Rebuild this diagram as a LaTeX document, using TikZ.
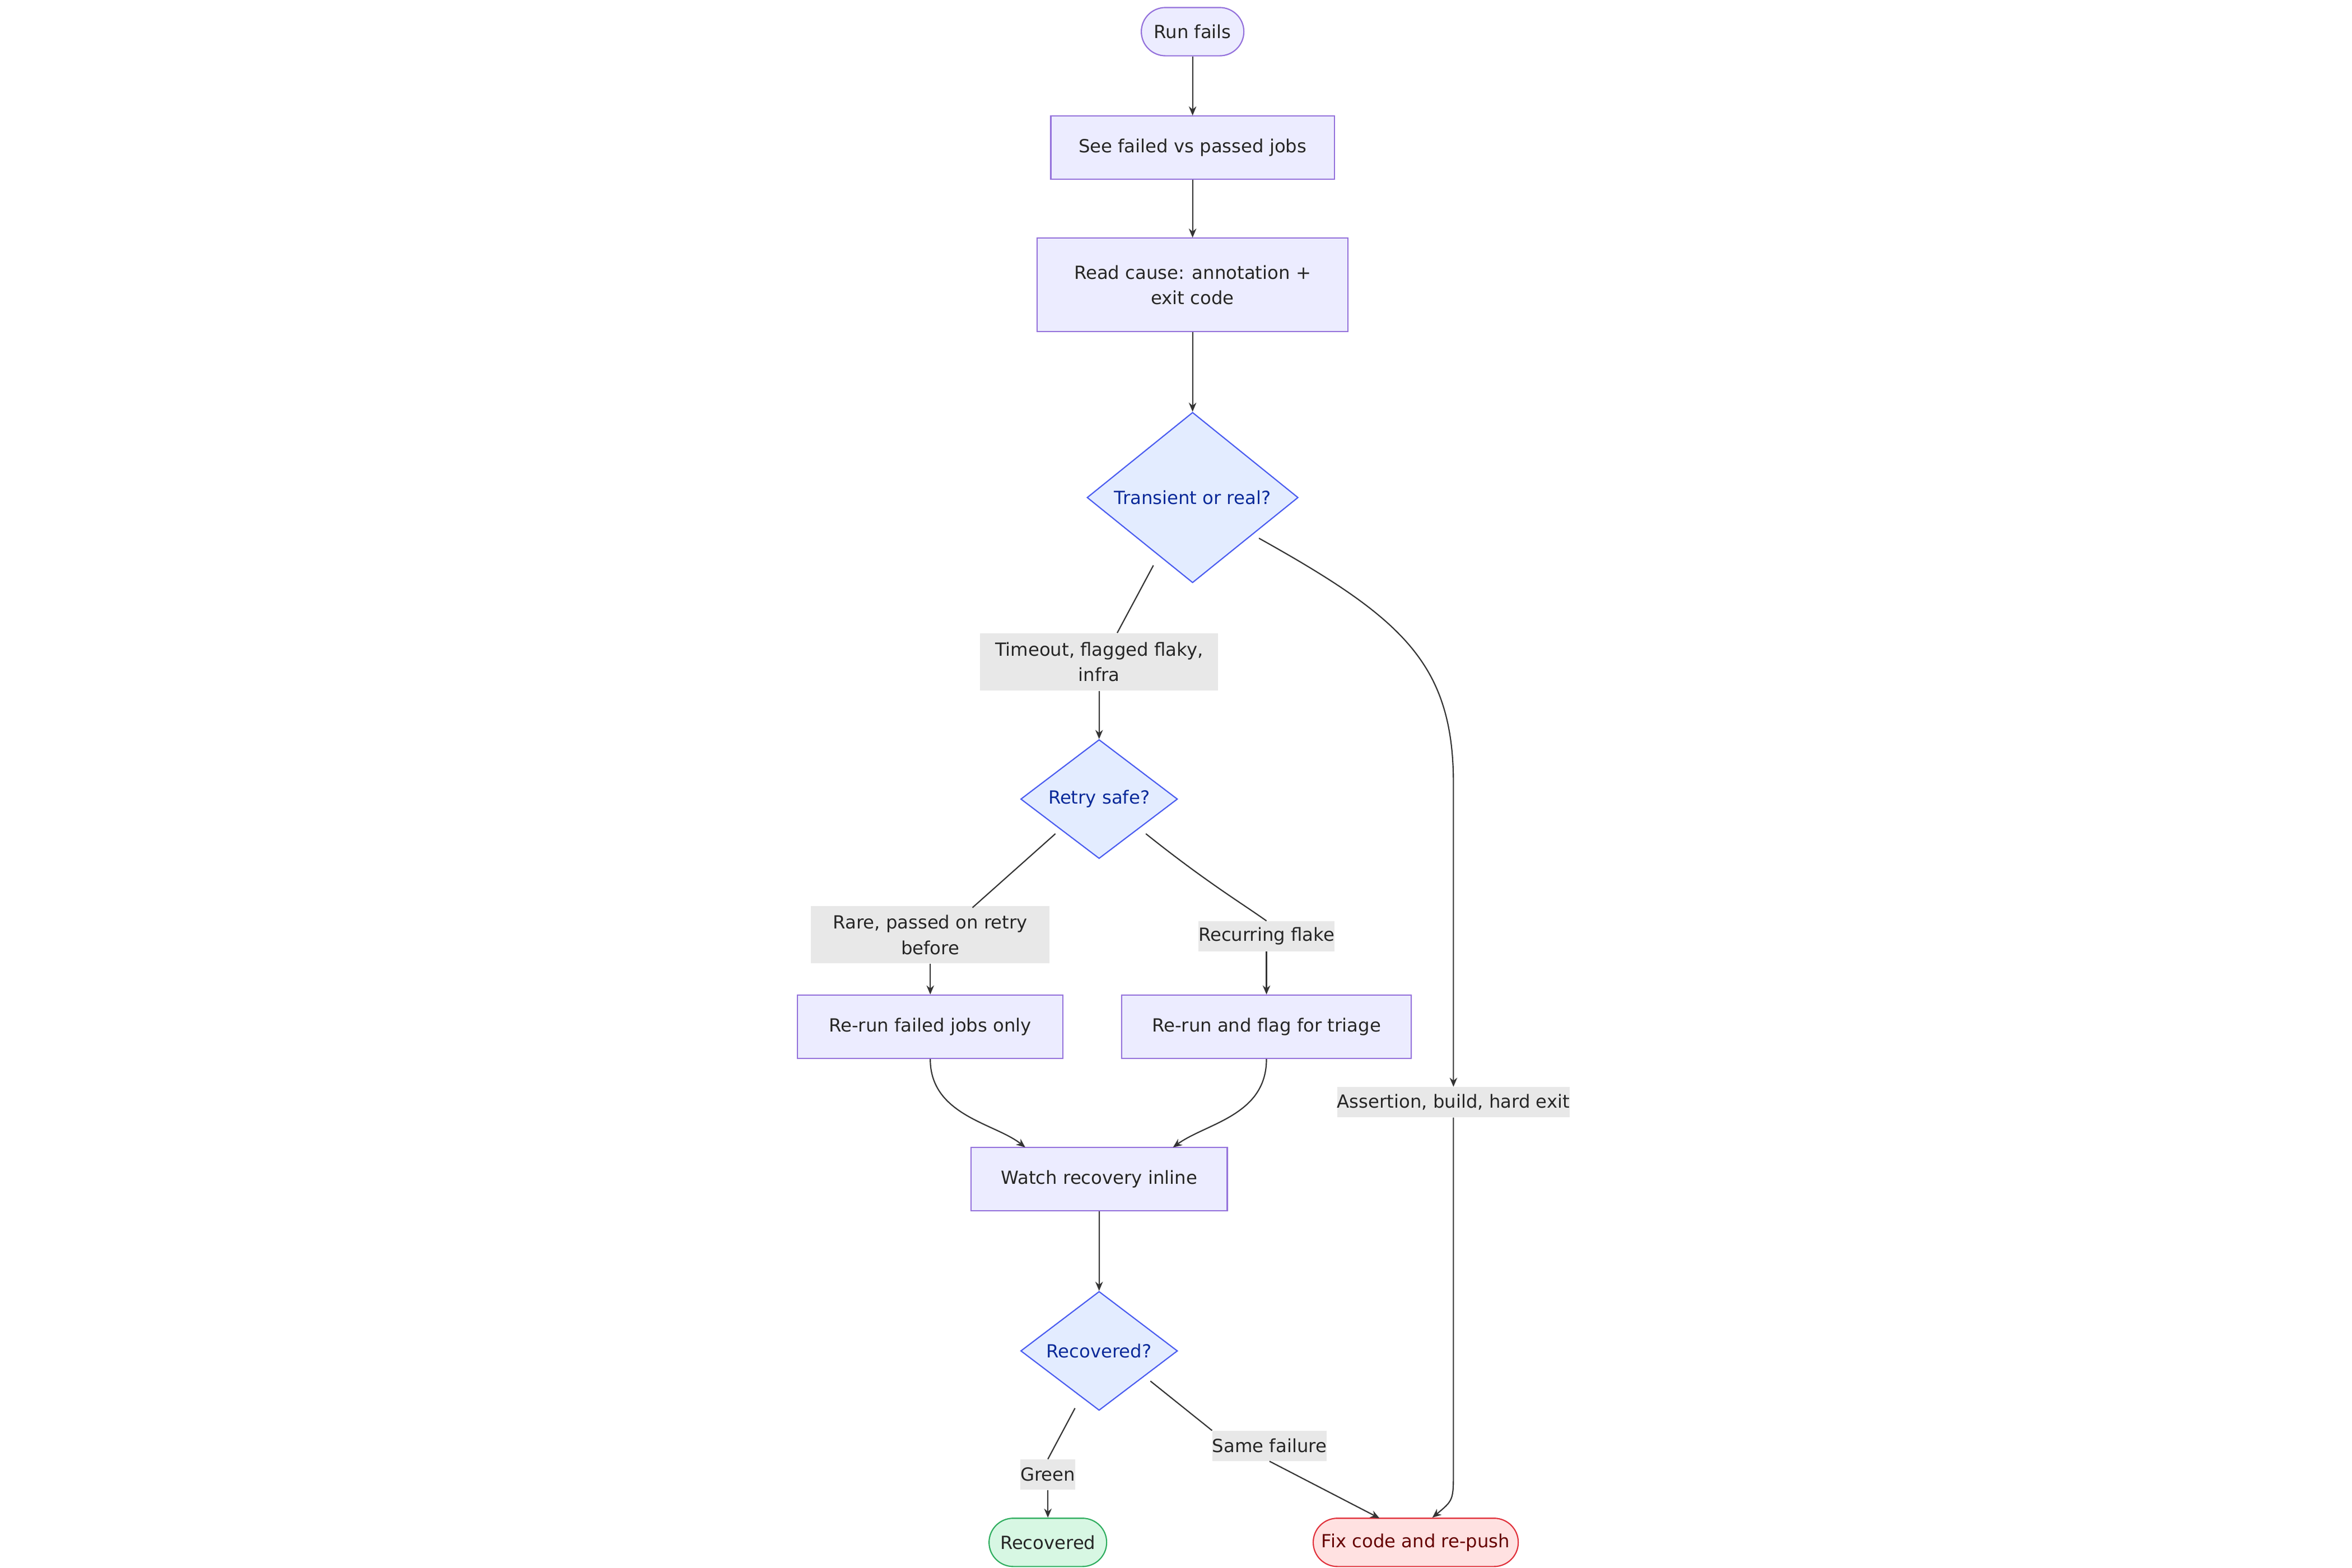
\documentclass[tikz,border=0pt]{standalone}
\usepackage{fontspec}
\setmainfont{DejaVu Sans}
\usetikzlibrary{shapes.geometric,arrows.meta}
\definecolor{pfill}{HTML}{ECECFF}
\definecolor{pline}{HTML}{9370DB}
\definecolor{dfill}{HTML}{E3ECFF}
\definecolor{dline}{HTML}{4A5CF0}
\definecolor{dtext}{HTML}{0A2A9A}
\definecolor{lfill}{HTML}{E8E8E8}
\definecolor{edge}{HTML}{333333}
\definecolor{gfill}{HTML}{D7F7E3}
\definecolor{gline}{HTML}{2EAD5E}
\definecolor{rfill}{HTML}{FFE1E1}
\definecolor{rline}{HTML}{E0303A}
\begin{document}
\begin{tikzpicture}[x=1pt,y=-1pt,
  every node/.style={font=\fontsize{12}{17}\selectfont, text=black!85, inner sep=0pt},
  proc/.style={draw=pline, fill=pfill, line width=0.8pt, rectangle, align=center},
  term/.style={draw=pline, fill=pfill, line width=0.8pt, rounded corners=16pt, minimum height=32pt},
  dec/.style={draw=dline, fill=dfill, line width=0.8pt, diamond, aspect=1, text=dtext},
  lab/.style={fill=lfill, align=center},
  conn/.style={draw=edge, line width=0.8pt},
  arr/.style={conn, -{Stealth[length=6pt,width=5pt]}}]
\useasboundingbox (0,0) rectangle (1560,1040);
\node[term, minimum width=68pt] (run) at (791,21) {Run fails};
\node[proc, minimum width=188pt, minimum height=42pt] (see) at (791,98) {See failed vs passed jobs};
\node[proc, minimum width=206pt, minimum height=62pt] (read) at (791,189) {Read cause: annotation +\\exit code};
\node[dec, minimum width=140pt] (trans) at (791,330) {Transient or real?};
\node[lab, minimum width=158pt, minimum height=38pt] (ltime) at (729,439) {Timeout, flagged flaky,\\infra};
\node[dec, minimum width=104pt] (retry) at (729,530) {Retry safe?};
\node[lab, minimum width=158pt, minimum height=38pt] (lrare) at (617,620) {Rare, passed on retry\\before};
\node[lab, minimum width=86pt, minimum height=20pt] (lrec) at (840,621) {Recurring flake};
\node[proc, minimum width=176pt, minimum height=42pt] (rfail) at (617,681) {Re-run failed jobs only};
\node[proc, minimum width=192pt, minimum height=42pt] (rflag) at (840,681) {Re-run and flag for triage};
\node[lab, minimum width=150pt, minimum height=20pt] (lass) at (964,731) {Assertion, build, hard exit};
\node[proc, minimum width=170pt, minimum height=42pt] (watch) at (729,782) {Watch recovery inline};
\node[dec, minimum width=104pt] (recq) at (729,896) {Recovered?};
\node[lab, minimum width=36pt, minimum height=20pt] (lgreen) at (695,978) {Green};
\node[lab, minimum width=72pt, minimum height=20pt] (lsame) at (842,959) {Same failure};
\node[term, draw=gline, fill=gfill, minimum width=78pt] (ok) at (695,1023) {Recovered};
\node[term, draw=rline, fill=rfill, minimum width=136pt, text=red!40!black] (fix) at (939,1023) {Fix code and re-push};

\draw[arr] (run) -- (see);
\draw[arr] (see) -- (read);
\draw[arr] (read) -- (trans);
\draw[conn] (765,375) -- (ltime.north -| 741,420);
\draw[arr] (ltime) -- (retry);
\draw[arr] (835,357) .. controls (930,410) and (964,440) .. (964,520) -- (lass.north);
\draw[arr] (lass.south) -- (964,975) .. controls (964,995) .. (fix.north -| 950,1007);
\draw[conn] (700,553) -- (645,602);
\draw[arr] (lrare) -- (rfail);
\draw[conn] (760,553) .. controls (800,585) and (825,600) .. (lrec.north);
\draw[arr] (lrec) -- (rflag);
\draw[arr] (rfail.south) .. controls (617,740) and (660,745) .. (680,761);
\draw[arr] (rflag.south) .. controls (840,740) and (800,745) .. (778,761);
\draw[arr] (watch) -- (recq);
\draw[conn] (713,934) -- (lgreen.north);
\draw[arr] (lgreen) -- (ok);
\draw[conn] (763,916) -- (lsame.north west);
\draw[arr] (lsame.south) -- (915,1007);
\end{tikzpicture}
\end{document}
